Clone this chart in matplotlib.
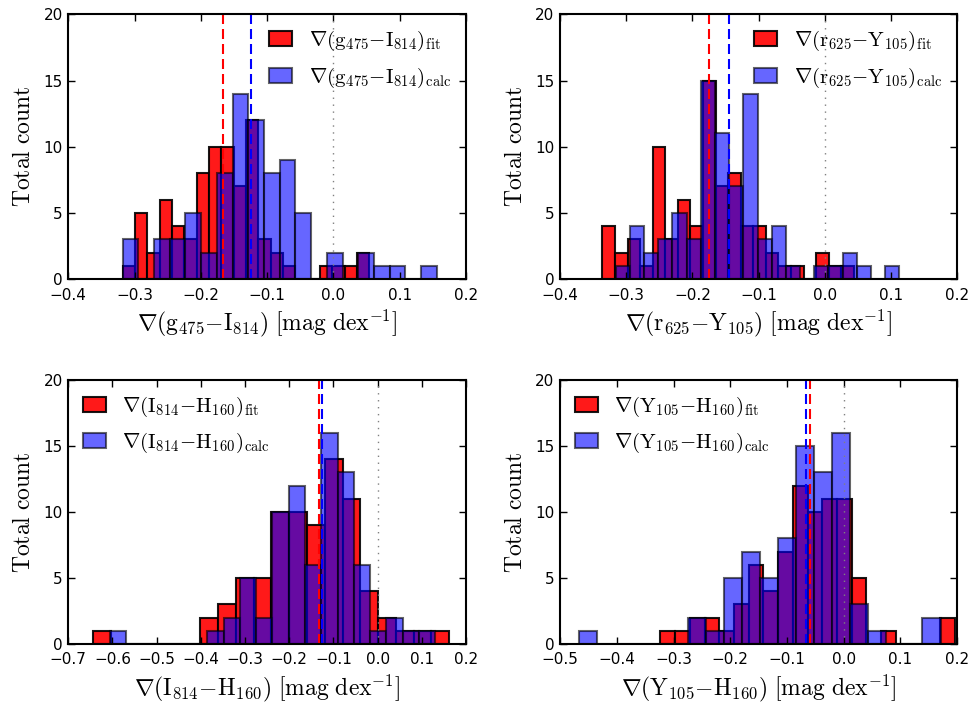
import numpy as np
import matplotlib
matplotlib.use("Agg")
import matplotlib.pyplot as plt

plt.rcParams["mathtext.fontset"] = "cm"
plt.rcParams["font.family"] = ["DejaVu Sans"]

# ---- histogram data: bin range (lo, hi) with 20 equal bins, and counts ----
# g475 - I814
gI_fit_range = (-0.318, 0.054)
gI_fit_counts = [1, 5, 2, 6, 4, 3, 8, 10, 10, 7, 12, 3, 2, 1, 0, 0, 1, 1, 1, 2]
gI_calc_range = (-0.318, 0.156)
gI_calc_counts = [3, 0, 3, 3, 5, 2, 8, 14, 12, 8, 9, 5, 0, 2, 0, 2, 1, 1, 0, 1]
gI_medians = (-0.167, -0.125)

# r625 - Y105
rY_fit_range = (-0.336, 0.044)
rY_fit_counts = [4, 2, 3, 1, 10, 3, 6, 4, 15, 7, 8, 4, 4, 2, 1, 1, 0, 2, 1, 1]
rY_calc_range = (-0.316, 0.113)
rY_calc_counts = [1, 4, 2, 3, 5, 3, 15, 11, 7, 14, 3, 4, 1, 0, 1, 1, 2, 1, 0, 1]
rY_medians = (-0.175, -0.145)

# I814 - H160
IH_fit_range = (-0.643, 0.162)
IH_fit_counts = [1, 0, 0, 0, 0, 0, 2, 3, 5, 5, 10, 10, 9, 14, 11, 4, 2, 1, 1, 1]
IH_calc_range = (-0.606, 0.130)
IH_calc_counts = [1, 0, 0, 0, 0, 0, 1, 2, 5, 2, 10, 12, 6, 16, 13, 6, 1, 2, 1, 1]
IH_medians = (-0.1335, -0.1267)

# Y105 - H160
YH_fit_range = (-0.323, 0.196)
YH_fit_counts = [1, 1, 2, 2, 1, 3, 6, 4, 7, 12, 10, 11, 11, 5, 0, 1, 0, 0, 0, 2]
YH_calc_range = (-0.466, 0.171)
YH_calc_counts = [1, 0, 0, 0, 0, 0, 2, 1, 5, 7, 5, 8, 15, 13, 16, 3, 1, 0, 0, 2]
YH_medians = (-0.060, -0.066)

colour_names = [("g", "475", "I", "814"), ("r", "625", "Y", "105"),
                ("I", "814", "H", "160"), ("Y", "105", "H", "160")]
x_limits = [(-0.4, 0.2), (-0.4, 0.2), (-0.7, 0.2), (-0.5, 0.2)]
legend_locs = ["upper right", "upper right", "upper left", "upper left"]

panels = [
    (gI_fit_range, gI_fit_counts, gI_calc_range, gI_calc_counts, gI_medians),
    (rY_fit_range, rY_fit_counts, rY_calc_range, rY_calc_counts, rY_medians),
    (IH_fit_range, IH_fit_counts, IH_calc_range, IH_calc_counts, IH_medians),
    (YH_fit_range, YH_fit_counts, YH_calc_range, YH_calc_counts, YH_medians),
]

fig = plt.figure(figsize=(9.75, 7.14), dpi=100)
positions = [
    [0.0700, 0.609, 0.408, 0.371],
    [0.5745, 0.609, 0.407, 0.371],
    [0.0700, 0.098, 0.408, 0.370],
    [0.5745, 0.098, 0.407, 0.370],
]


def colour_tex(names, suffix=None):
    a, an, b, bn = names
    core = r"\nabla(\mathrm{%s}_{%s}{-}\mathrm{%s}_{%s})" % (a, an, b, bn)
    if suffix is not None:
        core += r"_{\mathrm{%s}}" % suffix
    return "$" + core + "$"


for pos, data, names, xlim, loc in zip(positions, panels, colour_names,
                                        x_limits, legend_locs):
    ax = fig.add_axes(pos)
    fit_rng, fit_cnt, calc_rng, calc_cnt, med = data
    fit_edges = np.linspace(fit_rng[0], fit_rng[1], len(fit_cnt) + 1)
    calc_edges = np.linspace(calc_rng[0], calc_rng[1], len(calc_cnt) + 1)

    ax.hist(fit_edges[:-1], bins=fit_edges, weights=fit_cnt,
            color="red", alpha=0.9, edgecolor="black", linewidth=1.5,
            label=colour_tex(names, "fit"))
    ax.hist(calc_edges[:-1], bins=calc_edges, weights=calc_cnt,
            color="blue", alpha=0.6, edgecolor="black", linewidth=1.5,
            label=colour_tex(names, "calc"))

    ax.axvline(med[0], color="red", lw=1.5, dashes=(4.8, 2.4))
    ax.axvline(med[1], color="blue", lw=1.5, dashes=(4.8, 2.4))
    ax.axvline(0.0, color="gray", lw=1.0, dashes=(1, 4))

    ax.set_xlim(*xlim)
    ax.set_ylim(0, 20)
    ax.set_yticks([0, 5, 10, 15, 20])
    ax.set_xticks(np.round(np.arange(xlim[0], xlim[1] + 0.001, 0.1), 1))
    ax.tick_params(direction="in", top=True, right=True, length=5,
                   width=1, labelsize=11)
    ax.tick_params(axis="x", pad=6)
    ax.tick_params(axis="y", pad=4)
    for sp in ax.spines.values():
        sp.set_linewidth(1.5)

    ax.set_ylabel(r"$\mathrm{Total\ count}$", fontsize=17, labelpad=6)
    a, an, b, bn = names
    ax.set_xlabel(r"$\nabla(\mathrm{%s}_{%s}{-}\mathrm{%s}_{%s})\ [\mathrm{mag\ dex}^{-1}]$"
                  % (a, an, b, bn), fontsize=17, labelpad=4)

    ax.legend(loc=loc, frameon=False, fontsize=15, handlelength=1.1,
              handleheight=0.72, handletextpad=0.8, labelspacing=0.6,
              borderaxespad=0.3)

fig.savefig("out.png", dpi=100)
